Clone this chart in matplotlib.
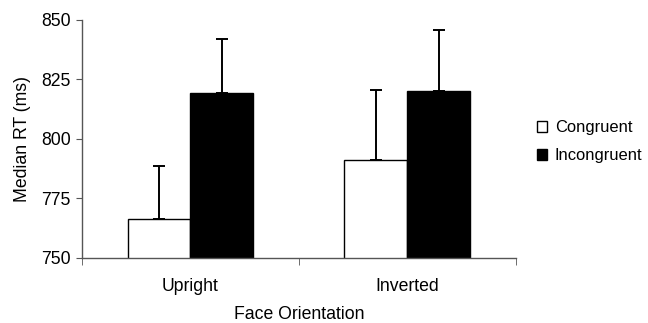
import matplotlib
matplotlib.use("Agg")
import matplotlib.pyplot as plt
import numpy as np

categories = ["Upright", "Inverted"]
congruent = [766.3, 790.9]
congruent_err = [22.4, 29.6]
incongruent = [819.3, 819.9]
incongruent_err = [22.6, 25.6]

plt.rcParams['font.family'] = ['Liberation Sans', 'DejaVu Sans']
FS = 12.7
LFS = 11.9

fig = plt.figure(figsize=(6.48, 3.23), dpi=100)
ax = fig.add_axes([0.1265, 0.202, 0.796 - 0.1265, 0.939 - 0.202])

x = np.arange(len(categories)) + 0.5
w = 0.29
ax.bar(x - w / 2, congruent, w, color="white", edgecolor="black",
       linewidth=1.0, label="Congruent", zorder=2)
ax.bar(x + w / 2, incongruent, w, color="black", edgecolor="black",
       linewidth=1.0, label="Incongruent", zorder=2)
ax.errorbar(x - w / 2, congruent, yerr=[np.zeros(2), congruent_err], fmt="none",
            ecolor="black", elinewidth=1.4, capsize=4, capthick=1.4, zorder=1)
ax.errorbar(x + w / 2, incongruent, yerr=[np.zeros(2), incongruent_err], fmt="none",
            ecolor="black", elinewidth=1.4, capsize=4, capthick=1.4, zorder=1)

ax.set_xlim(0, 2)
ax.set_ylim(750, 850)
ax.set_yticks([750, 775, 800, 825, 850])
ax.set_xticks(x)
ax.set_xticklabels(categories)
ax.set_xticks([0, 1, 2], minor=True)
ax.tick_params(axis="x", which="major", length=0, pad=14.5, labelsize=FS)
ax.tick_params(axis="x", which="minor", length=5, color="#555555", direction="out")
ax.tick_params(axis="y", length=4, color="#555555", labelsize=FS, pad=4)

for s in ["top", "right"]:
    ax.spines[s].set_visible(False)
for s in ["left", "bottom"]:
    ax.spines[s].set_color("#555555")
    ax.spines[s].set_linewidth(1.0)

ax.set_ylabel("Median RT (ms)", fontsize=FS, labelpad=7)
ax.set_xlabel("Face Orientation", fontsize=FS, labelpad=8)

fig.legend(loc="upper left", bbox_to_anchor=(0.828, 0.628), frameon=False,
           fontsize=LFS, handlelength=0.65, handleheight=0.65, handletextpad=0.45,
           labelspacing=0.8, borderaxespad=0, borderpad=0)

fig.savefig("out.png", dpi=100)
